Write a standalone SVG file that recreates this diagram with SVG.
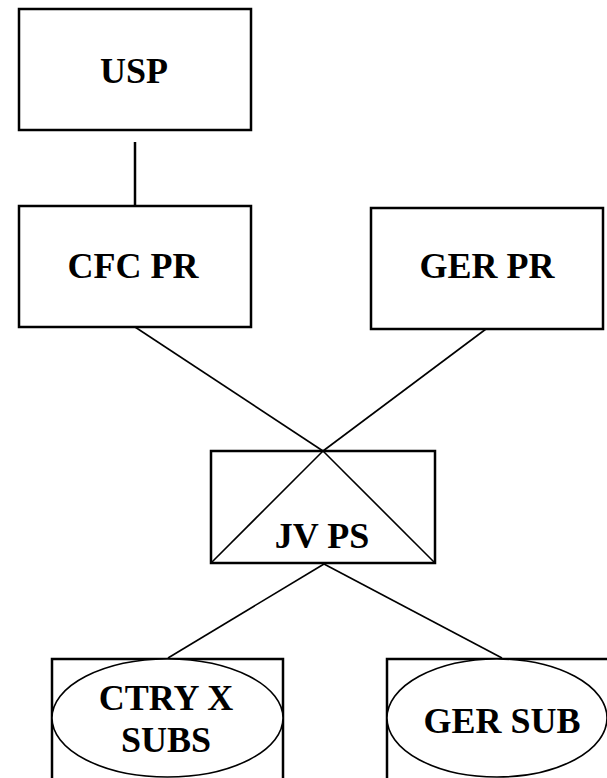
<svg xmlns="http://www.w3.org/2000/svg" width="607" height="778" viewBox="0 0 607 778">
<style>
.box{fill:#fff;stroke:#000;stroke-width:2.5}
.ell{fill:#fff;stroke:#000;stroke-width:1.6}
.ln{stroke:#000;stroke-width:1.6;fill:none}
.lbl{font-family:"Liberation Serif","Times New Roman",serif;font-weight:bold;font-size:36px;text-anchor:middle;fill:#000}
</style>
<rect width="607" height="778" fill="#fff"/>
<g id="connectors">
<line x1="135" y1="142" x2="135" y2="206" stroke="#000" stroke-width="2.5"/>
<line class="ln" x1="135" y1="327" x2="323" y2="451"/>
<line class="ln" x1="486" y1="329" x2="323" y2="451"/>
<line class="ln" x1="324" y1="564" x2="168" y2="658"/>
<line class="ln" x1="324" y1="564" x2="502" y2="658"/>
</g>
<g id="usp">
<rect class="box" x="19" y="9" width="232" height="121"/>
<text class="lbl" x="134" y="83">USP</text>
</g>
<g id="cfc-pr">
<rect class="box" x="19" y="206" width="232" height="121"/>
<text class="lbl" x="133" y="278">CFC PR</text>
</g>
<g id="ger-pr">
<rect class="box" x="371" y="208" width="232" height="121"/>
<text class="lbl" x="487" y="278">GER PR</text>
</g>
<g id="jv-ps">
<rect class="box" x="211" y="451" width="224" height="112"/>
<line class="ln" x1="323" y1="451" x2="211" y2="563"/>
<line class="ln" x1="323" y1="451" x2="435" y2="563"/>
<text class="lbl" x="322" y="548">JV PS</text>
</g>
<g id="ctry-x-subs">
<rect class="box" x="52" y="659" width="231" height="130"/>
<ellipse class="ell" cx="167.5" cy="718" rx="115.5" ry="59"/>
<text class="lbl" x="166" y="710">CTRY X</text>
<text class="lbl" x="166" y="752">SUBS</text>
</g>
<g id="ger-sub">
<rect class="box" x="387" y="659" width="240" height="130"/>
<ellipse class="ell" cx="497" cy="718" rx="110" ry="59"/>
<text class="lbl" x="502" y="733">GER SUB</text>
</g>
</svg>
